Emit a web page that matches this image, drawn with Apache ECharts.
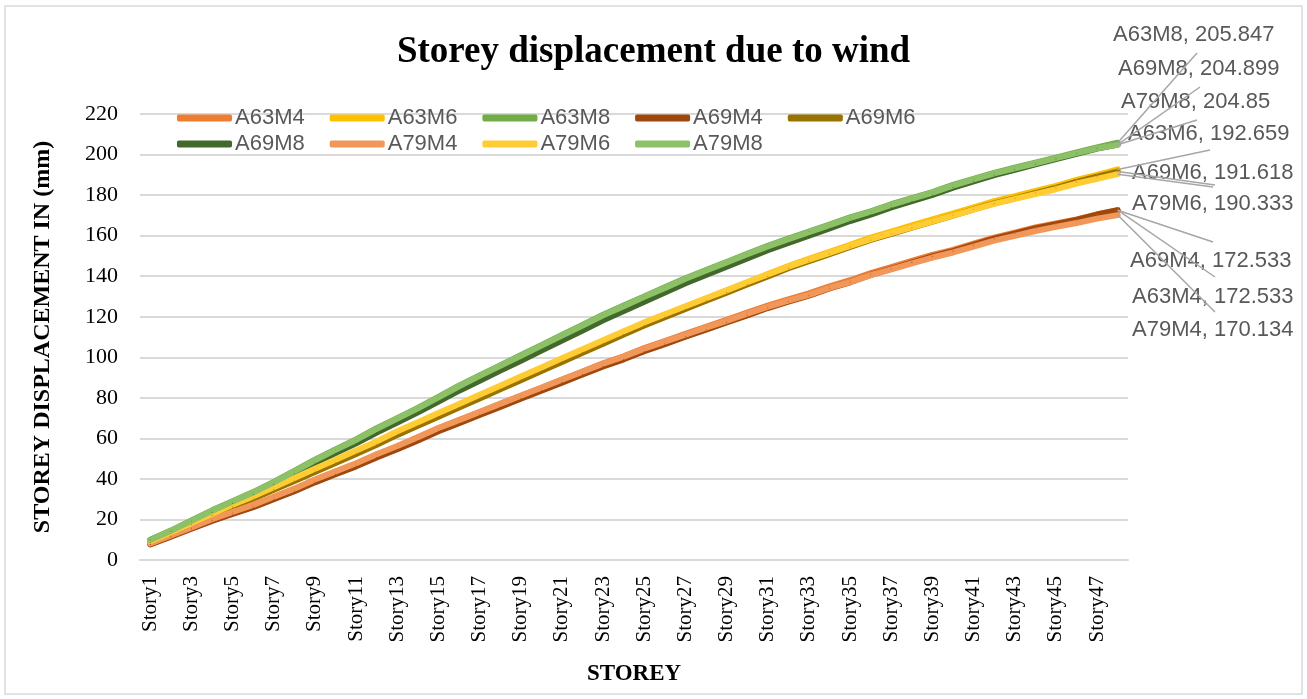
<!DOCTYPE html>
<html>
<head>
<meta charset="utf-8">
<title>Storey displacement due to wind</title>
<script src="https://cdn.jsdelivr.net/npm/echarts@6/dist/echarts.min.js"></script>
<style>
  html, body { margin: 0; padding: 0; background: #fff; }
  #main { width: 1307px; height: 699px; }
</style>
</head>
<body>
<div id="main"></div>
<script>
var stories = ["Story1", "Story2", "Story3", "Story4", "Story5", "Story6", "Story7", "Story8",
  "Story9", "Story10", "Story11", "Story12", "Story13", "Story14", "Story15", "Story16",
  "Story17", "Story18", "Story19", "Story20", "Story21", "Story22", "Story23", "Story24",
  "Story25", "Story26", "Story27", "Story28", "Story29", "Story30", "Story31", "Story32",
  "Story33", "Story34", "Story35", "Story36", "Story37", "Story38", "Story39", "Story40",
  "Story41", "Story42", "Story43", "Story44", "Story45", "Story46", "Story47", "Story48"];

var A63M4 = [8, 12, 16, 20, 23.5, 27, 31, 35, 39.5, 43.5, 47.5, 52, 56, 60.5, 65, 69, 73, 77, 81, 85, 89, 93, 97, 100.5,
  104.5, 108, 111.5, 115, 118.5, 122, 125.5, 128.5, 131.5, 135, 138, 141.5, 144.5, 147.5, 150.5, 153, 156, 159, 161.5, 164, 166, 168, 170.5, 172.533];
var A63M6 = [9, 13.5, 18, 22.5, 27, 31, 35.5, 40, 44.5, 49, 53.5, 58, 63, 67.5, 72, 76.5, 81, 85.5, 90, 94.5, 99, 103.5, 108, 112.5,
  117, 121, 125, 129, 133, 137, 141, 145, 148.5, 152, 155.5, 159, 162, 165, 168, 171, 174, 177, 179.5, 182, 184.5, 187.5, 190, 192.659];
var A63M8 = [10, 14.5, 19.5, 24.5, 29, 33.5, 38.5, 44, 49.5, 54.5, 59.5, 65, 70, 75, 80.5, 86, 91, 96, 101, 106, 111, 116, 121, 125.5,
  130, 134.5, 139, 143, 147, 151, 155, 158.5, 162, 165.5, 169, 172, 175.5, 178.5, 181.5, 185, 188, 191, 193.5, 196, 198.5, 201, 203.5, 205.847];
var A69M4 = [7.7, 11.5, 15.4, 19.3, 22.7, 26.1, 30, 33.9, 38.3, 42.3, 46.2, 50.6, 54.6, 59, 63.5, 67.5, 71.5, 75.5, 79.5, 83.5, 87.5, 91.5, 95.5, 99,
  103, 106.5, 110.1, 113.6, 117.2, 120.7, 124.3, 127.4, 130.4, 134, 137, 140.6, 143.6, 146.7, 149.8, 152.4, 155.4, 158.5, 161, 163.6, 165.7, 167.8, 170.4, 172.533];
var A69M6 = [8.8, 13.1, 17.5, 21.9, 26.2, 30.2, 34.6, 39, 43.4, 47.8, 52.3, 56.8, 61.7, 66.2, 70.7, 75.2, 79.7, 84.2, 88.7, 93.2, 97.7, 102.2, 106.7, 111.2,
  115.7, 119.8, 123.8, 127.9, 131.9, 135.9, 139.9, 143.9, 147.4, 150.9, 154.4, 157.9, 160.9, 163.9, 166.9, 169.9, 172.9, 175.9, 178.4, 181, 183.5, 186.5, 189.1, 191.618];
var A69M8 = [9.6, 14, 18.8, 23.6, 28, 32.4, 37.2, 42.5, 47.8, 52.7, 57.6, 62.9, 67.8, 72.8, 78.1, 83.5, 88.4, 93.4, 98.3, 103.3, 108.2, 113.2, 118.2, 122.8,
  127.4, 131.9, 136.5, 140.6, 144.7, 148.7, 152.8, 156.4, 160, 163.6, 167.2, 170.3, 173.9, 177, 180.1, 183.7, 186.8, 189.9, 192.5, 195.2, 197.8, 200.4, 202.9, 204.899];
var A79M4 = [8.1, 12.1, 16.1, 20.1, 23.7, 27.2, 31.2, 35.2, 39.7, 43.7, 47.7, 52.2, 56.2, 60.6, 65.1, 69, 73, 77, 81, 85, 88.9, 92.9, 96.8, 100.3,
  104.2, 107.7, 111.1, 114.6, 118, 121.5, 124.9, 127.9, 130.8, 134.2, 137.1, 140.5, 143.4, 146.3, 149.2, 151.7, 154.6, 157.5, 159.9, 162.3, 164.3, 166.2, 168.4, 170.134];
var A79M6 = [9.2, 13.7, 18.2, 22.8, 27.3, 31.4, 35.9, 40.4, 45, 49.5, 54, 58.5, 63.5, 68, 72.5, 77, 81.5, 86, 90.5, 95, 99.5, 104, 108.4, 112.8,
  117.2, 121.2, 125.2, 129.1, 133, 137, 140.8, 144.7, 148.1, 151.5, 154.9, 158.3, 161.2, 164.1, 167, 169.9, 172.8, 175.7, 178.1, 180.5, 182.9, 185.7, 188, 190.333];
var A79M8 = [9.8, 14.4, 19.3, 24.3, 28.8, 33.3, 38.3, 43.7, 49.2, 54.3, 59.2, 64.7, 69.8, 74.8, 80.2, 85.7, 90.8, 95.8, 100.7, 105.8, 110.7, 115.7, 120.7, 125.2,
  129.8, 134.2, 138.7, 142.8, 146.8, 150.8, 154.7, 158.2, 161.7, 165.2, 168.7, 171.8, 175.2, 178.2, 181.2, 184.7, 187.7, 190.7, 193.2, 195.7, 198.2, 200.7, 203.1, 204.85];

var seriesNames = ["A63M4", "A63M6", "A63M8", "A69M4", "A69M6", "A69M8", "A79M4", "A79M6", "A79M8"];
var seriesData = [A63M4, A63M6, A63M8, A69M4, A69M6, A69M8, A79M4, A79M6, A79M8];
var colors = ["#ED7D31", "#FFC000", "#70AD47", "#9E480E", "#997300", "#43682B", "#F1975A", "#FFCD33", "#8CC168"];

// end labels: left edge x, centre y, then where the leader line stops
var labelPos = {
  A63M8: [1113, 35, 1197, 53], A69M8: [1118, 69, 1200, 87], A79M8: [1121, 102, 1197, 120],
  A63M6: [1128, 134, 1210, 150], A69M6: [1132, 173, 1215, 185], A79M6: [1132, 204, 1213, 187],
  A69M4: [1130, 261, 1213, 242], A63M4: [1132, 297, 1215, 277], A79M4: [1132, 330, 1215, 312]
};

var serif = "Liberation Serif, Times New Roman, serif";
var sans = "Liberation Sans, Arial, sans-serif";

var chart = echarts.init(document.getElementById("main"));

var series = seriesNames.map(function (name, k) {
  var arr = seriesData[k];
  var last = arr.length - 1;
  var p = labelPos[name];
  return {
    name: name,
    type: "line",
    data: arr.map(function (v, i) {
      return i === last ? { value: v, label: { show: true } } : v;
    }),
    symbol: "circle",
    symbolSize: 1,
    showSymbol: true,
    lineStyle: { color: colors[k], width: 6, cap: "round", join: "round" },
    itemStyle: { color: colors[k] },
    label: {
      show: false,
      formatter: "{a}, {c}",
      fontFamily: sans,
      fontSize: 22,
      color: "#595959"
    },
    labelLayout: { x: p[0], y: p[1], align: "left", verticalAlign: "middle" },
    // leader line from the last point out to its label
    markLine: {
      silent: true,
      symbol: "none",
      animation: false,
      label: { show: false },
      lineStyle: { color: "#A6A6A6", width: 1.5, type: "solid" },
      emphasis: { disabled: true },
      data: [[{ coord: [stories[last], arr[last]] }, { x: p[2], y: p[3] }]]
    },
    emphasis: { disabled: true }
  };
});

var legendCommon = {
  left: 172,
  itemWidth: 55,
  itemHeight: 7,
  itemGap: 25,
  icon: "roundRect",
  textStyle: { fontFamily: sans, fontSize: 22, color: "#595959", padding: [0, 0, 0, -2] }
};

var option = {
  backgroundColor: "#fff",
  animation: false,
  color: colors,
  title: {
    text: "Storey displacement due to wind",
    left: "center",
    top: 29,
    textStyle: { fontFamily: serif, fontSize: 37, fontWeight: "bold", color: "#000" }
  },
  legend: [
    Object.assign({}, legendCommon, { top: 102, data: seriesNames.slice(0, 5) }),
    Object.assign({}, legendCommon, { top: 128, data: seriesNames.slice(5) })
  ],
  grid: { left: 140, right: 179, top: 114, bottom: 139 },
  xAxis: {
    type: "category",
    data: stories,
    boundaryGap: true,
    name: "STOREY",
    nameLocation: "middle",
    nameGap: 103,
    nameTextStyle: { fontFamily: serif, fontSize: 23, fontWeight: "bold", color: "#000" },
    axisLine: { lineStyle: { color: "#D9D9D9", width: 2 } },
    axisTick: { show: false },
    axisLabel: {
      interval: 1,
      rotate: 90,
      margin: 16,
      fontFamily: serif,
      fontSize: 21,
      color: "#000"
    }
  },
  yAxis: {
    type: "value",
    min: 0,
    max: 220,
    interval: 20,
    name: "STOREY DISPLACEMENT IN (mm)",
    nameLocation: "middle",
    nameGap: 85,
    nameTextStyle: { fontFamily: serif, fontSize: 24, fontWeight: "bold", color: "#000" },
    axisLine: { show: false },
    axisTick: { show: false },
    axisLabel: { margin: 22, fontFamily: serif, fontSize: 22, color: "#000" },
    splitLine: { lineStyle: { color: "#D9D9D9", width: 2 } }
  },
  graphic: [{
    type: "rect",
    shape: { x: 5, y: 6, width: 1297, height: 688 },
    style: { fill: null, stroke: "#D9D9D9", lineWidth: 1.5 },
    silent: true
  }],
  series: series
};

chart.setOption(option);
</script>
</body>
</html>
